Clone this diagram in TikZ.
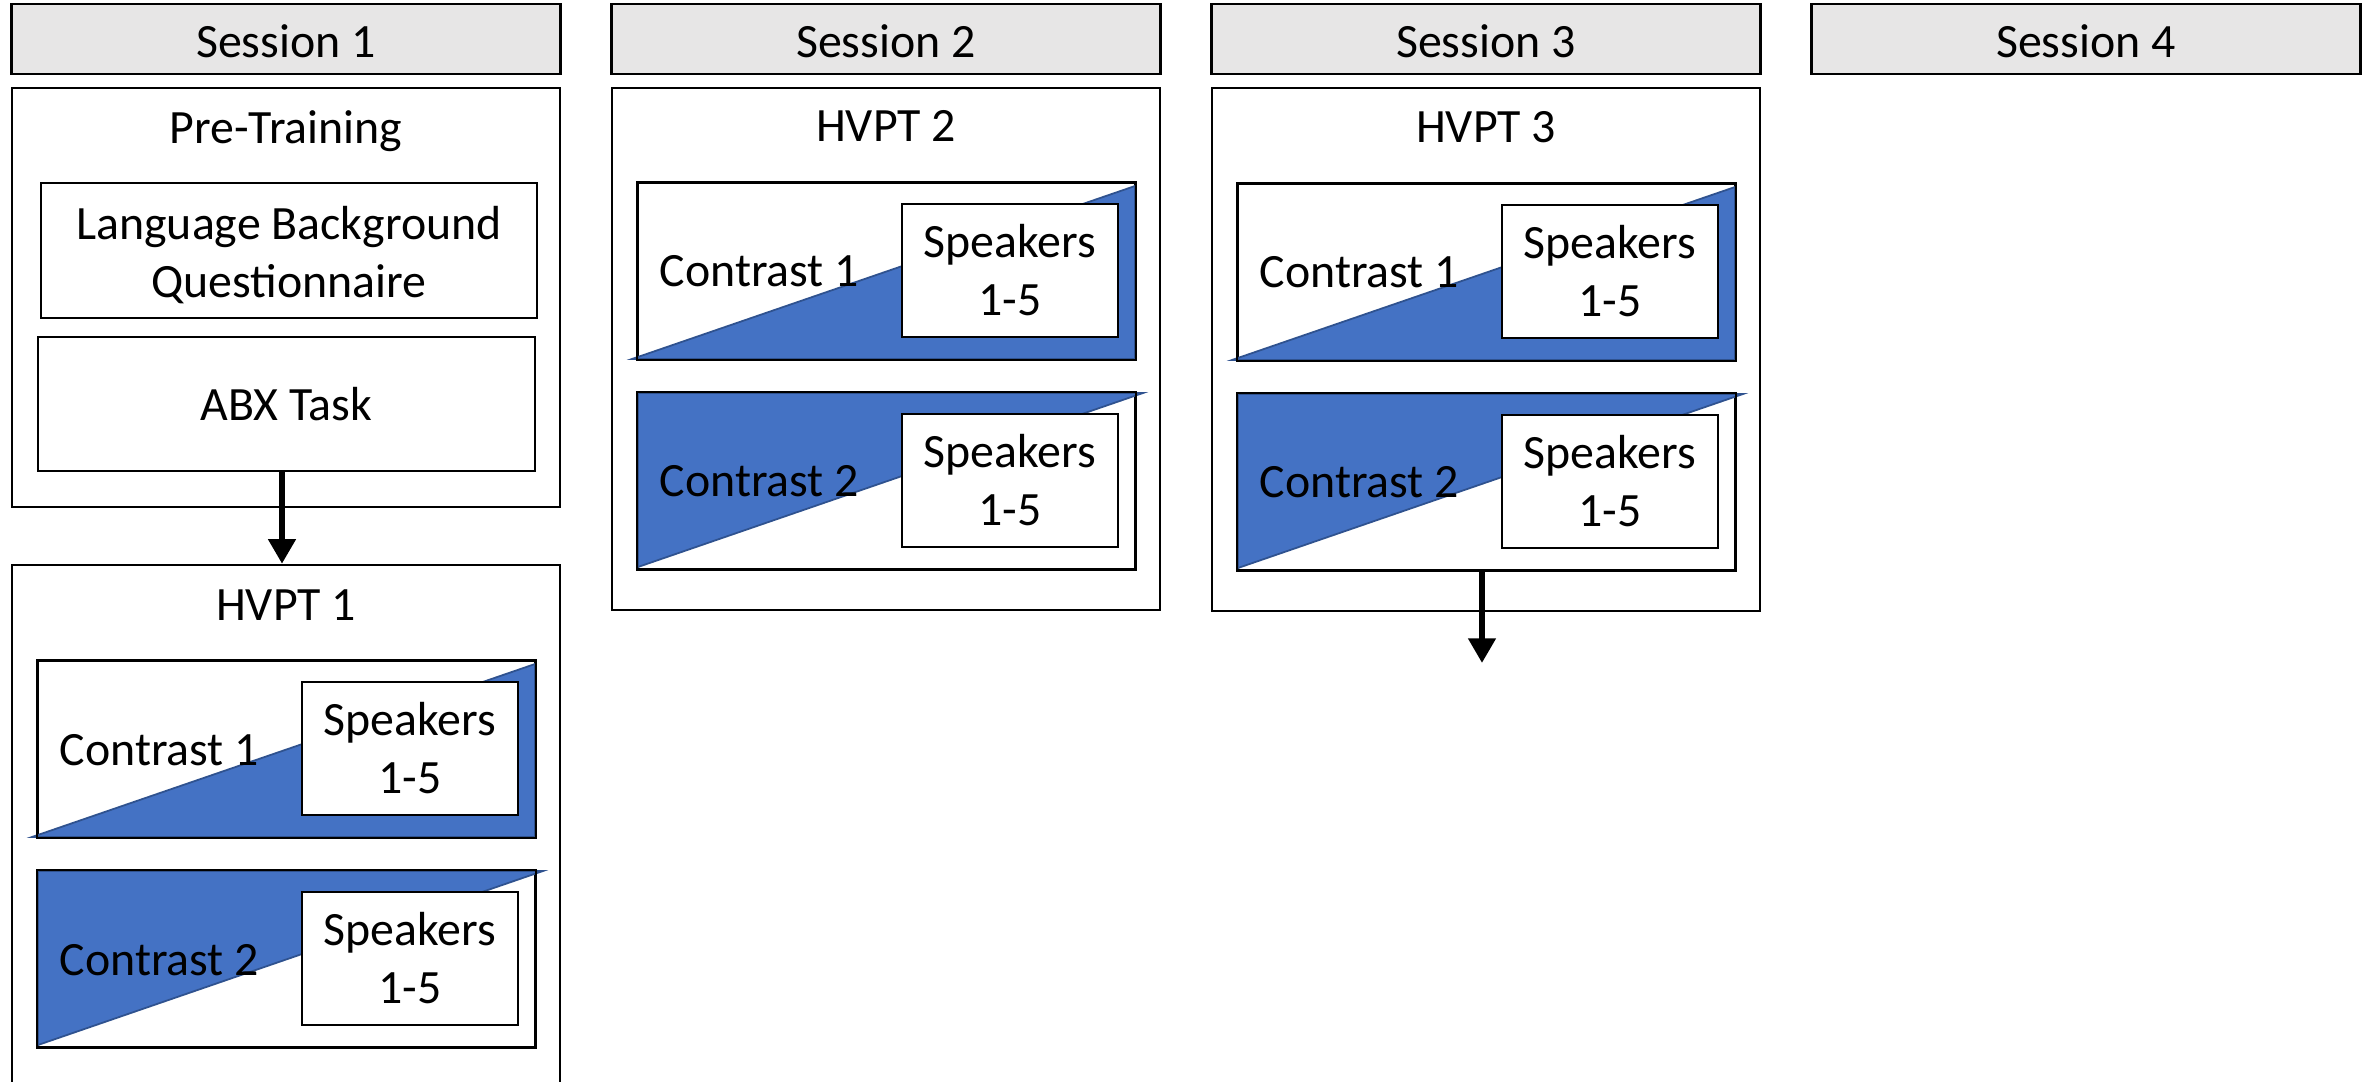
\documentclass[tikz,border=0pt]{standalone}
\usepackage{fontspec}
\setmainfont{Carlito}
\usetikzlibrary{arrows.meta}
\definecolor{triblue}{HTML}{4472C4}
\definecolor{triedge}{HTML}{2F528F}
\definecolor{hdrgray}{HTML}{E7E6E6}
\newcommand{\cpair}[3]{%
 \node[cbox] (#3a) at ({#1+248.5},{#2+88}) {};
 \path[tri] ({#1-6},{#2+176}) -- ({#1+497},{#2+176}) -- ({#1+497},{#2+3}) -- cycle;
 \draw[edge] (#3a.south west) rectangle (#3a.north east);
 \node[spk] (#3as) at ({#1+372},{#2+87.5}) {Speakers\\1-5};
 \node[txt,anchor=base west] (#3at) at ({#1+21},{#2+104}) {Contrast 1};
 \node[cbox] (#3b) at ({#1+248.5},{#2+298}) {};
 \path[tri] (#1,{#2+210}) -- ({#1+505},{#2+210}) -- (#1,{#2+384}) -- cycle;
 \draw[edge] (#3b.south west) rectangle (#3b.north east);
 \node[spk] (#3bs) at ({#1+372},{#2+297.5}) {Speakers\\1-5};
 \node[txt,anchor=base west] (#3bt) at ({#1+21},{#2+314}) {Contrast 2};
}
\begin{document}
\begin{tikzpicture}[x=0.01cm,y=-0.01cm,
  every node/.style={font=\fontsize{13.6pt}{16.5pt}\selectfont},
  hdr/.style={draw=black,line width=0.8pt,fill=hdrgray,minimum width=5.48cm,minimum height=0.70cm,inner sep=0},
  panel/.style={draw=black,line width=0.6pt,fill=white,inner sep=0},
  cbox/.style={panel,minimum width=4.97cm,minimum height=1.76cm},
  spk/.style={panel,minimum width=2.16cm,minimum height=1.33cm,align=center},
  tri/.style={fill=triblue,draw=triedge,line width=0.5pt},
  edge/.style={draw=black,line width=0.6pt},
  txt/.style={inner sep=0,anchor=base},
  flow/.style={line width=1.8pt,-{Triangle[length=7pt,width=7.5pt]}}]
\clip (0,0) rectangle (2374,1082);
\fill[white] (0,0) rectangle (2374,1082);
% headers
\foreach \i in {1,...,4} {
  \node[hdr] (h\i) at ({286+600*(\i-1)},39) {};
  \node[txt] (ht\i) at ({286+600*(\i-1)},58) {Session \i};
}
% Session 1: pre-training
\node[panel,minimum width=5.48cm,minimum height=4.19cm] (pre) at (286,297.5) {};
\node[txt] (pret) at (286,144) {Pre-Training};
\node[panel,minimum width=4.96cm,minimum height=1.35cm] (lbq) at (289,250.5) {};
\node[inner sep=0,align=center] (lbqt) at (289,255) {Language Background\\Questionnaire};
\node[panel,minimum width=4.97cm,minimum height=1.34cm] (abx) at (286.5,404) {ABX Task};
% Session 1: HVPT 1
\node[panel,minimum width=5.48cm,minimum height=5.60cm] (hv1) at (286,845) {};
\node[txt] (hv1t) at (286,620) {HVPT 1};
\cpair{38}{661}{sa}
\draw[flow] ([xshift=-0.045cm]abx.south) -- ([xshift=-0.045cm]abx.south |- hv1.north);
% Session 2
\node[panel,minimum width=5.48cm,minimum height=5.22cm] (hv2) at (886,349) {};
\node[txt] (hv2t) at (886,142) {HVPT 2};
\cpair{638}{183}{sb}
% Session 3
\node[panel,minimum width=5.48cm,minimum height=5.22cm] (hv3) at (1486,349.5) {};
\node[txt] (hv3t) at (1486,143) {HVPT 3};
\cpair{1238}{184}{sc}
\coordinate (end3) at (1482,663);
\draw[flow] (end3 |- scb.south) -- (end3);
\end{tikzpicture}
\end{document}
